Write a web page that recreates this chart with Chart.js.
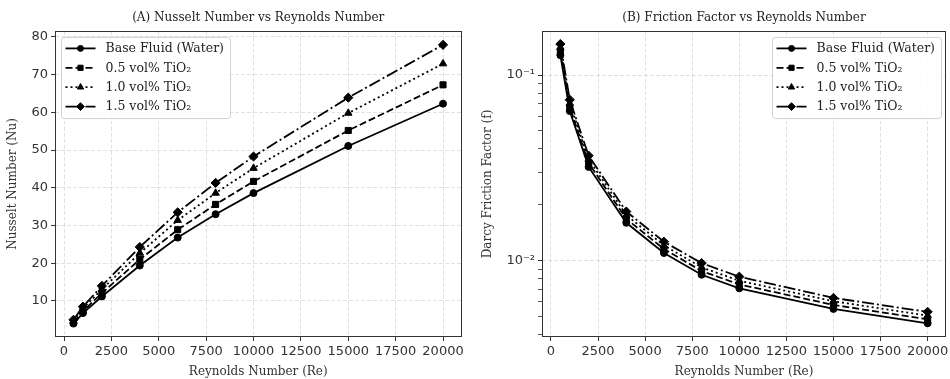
<!DOCTYPE html>
<html>
<head>
<meta charset="utf-8">
<script src="https://cdn.jsdelivr.net/npm/chart.js@4.4.0/dist/chart.umd.min.js"></script>
<style>
  html, body { margin: 0; padding: 0; background: #fff; }
  #wrap { position: relative; width: 950px; height: 379px; }
  canvas { position: absolute; top: 0; }
</style>
</head>
<body>
<div id="wrap">
  <canvas id="nu-chart" width="475" height="379" style="left:0"></canvas>
  <canvas id="f-chart" width="475" height="379" style="left:475px"></canvas>
</div>
<script>
// Reynolds numbers sampled
const reynolds = [500, 1000, 2000, 4000, 6000, 8000, 10000, 15000, 20000];
const seriesNames = ['Base Fluid (Water)', '0.5 vol% TiO\u2082', '1.0 vol% TiO\u2082', '1.5 vol% TiO\u2082'];

// Nusselt number
const nuWater = [4.0, 6.8, 11.2, 19.4, 26.8, 33.0, 38.6, 51.1, 62.3];
const nuTi05 = [4.3, 7.3, 12.1, 21.0, 28.9, 35.6, 41.7, 55.2, 67.3];
const nuTi10 = [4.7, 8.0, 13.1, 22.7, 31.4, 38.6, 45.2, 59.8, 72.9];
const nuTi15 = [5.0, 8.5, 14.0, 24.3, 33.5, 41.3, 48.3, 63.9, 77.9];

// Darcy friction factor
const fWater = [0.128, 0.064, 0.032, 0.0160, 0.0110, 0.0084, 0.0071, 0.0055, 0.0046];
const fTi05 = [0.134, 0.067, 0.0336, 0.0168, 0.01155, 0.0088, 0.00745, 0.00578, 0.00483];
const fTi10 = [0.141, 0.0704, 0.0352, 0.0176, 0.0121, 0.0092, 0.0078, 0.00605, 0.00506];
const fTi15 = [0.147, 0.0736, 0.0368, 0.0184, 0.01265, 0.0097, 0.0082, 0.0063, 0.0053];

// tick labels
const reTicks = [0, 2500, 5000, 7500, 10000, 12500, 15000, 17500, 20000];
const nuTicks = [10, 20, 30, 40, 50, 60, 70, 80];
const fMajorTicks = [0.01, 0.1];
const fMajorLabels = ['10\u207B\u00B2', '10\u207B\u00B9'];
const fMinorTicks = [0.004, 0.005, 0.006, 0.007, 0.008, 0.009, 0.02, 0.03, 0.04, 0.05, 0.06, 0.07, 0.08, 0.09];

// line / marker look for each series
const styles = [
  { dash: [], point: 'circle', radius: 3.5 },
  { dash: [7, 3], point: 'rect', radius: 4.3 },
  { dash: [2, 3], point: 'triangle', radius: 4.3 },
  { dash: [12, 3, 2, 3], point: 'rectRot', radius: 4.6 },
];

const SERIF = "'DejaVu Serif', 'Liberation Serif', serif";
const SANS = "'DejaVu Sans', 'Liberation Sans', sans-serif";
const GRID = 'rgba(150, 150, 150, 0.28)';
const INK = '#333';

function makeDatasets(series) {
  return series.map((values, i) => ({
    label: seriesNames[i],
    data: reynolds.map((re, j) => ({ x: re, y: values[j] })),
    borderColor: '#000',
    backgroundColor: '#000',
    borderWidth: 1.8,
    borderDash: styles[i].dash,
    pointStyle: styles[i].point,
    pointRadius: styles[i].radius,
    pointBorderWidth: 1,
    pointBorderColor: '#000',
    pointBackgroundColor: '#000',
    tension: 0,
    fill: false,
  }));
}

// full box around the plot, like matplotlib spines
const framePlugin = {
  id: 'frame',
  afterDatasetsDraw(chart) {
    const a = chart.chartArea;
    const ctx = chart.ctx;
    ctx.save();
    ctx.strokeStyle = INK;
    ctx.lineWidth = 1;
    ctx.strokeRect(Math.round(a.left) + 0.5, Math.round(a.top) + 0.5,
      Math.round(a.right - a.left) - 1, Math.round(a.bottom - a.top) - 1);
    ctx.restore();
  },
};

function drawMarker(ctx, style, r, x, y) {
  ctx.beginPath();
  if (style === 'circle') {
    ctx.arc(x, y, r, 0, Math.PI * 2);
  } else if (style === 'rect') {
    const s = r * Math.SQRT1_2;
    ctx.rect(x - s, y - s, 2 * s, 2 * s);
  } else if (style === 'triangle') {
    for (let k = 0; k < 3; k++) {
      const ang = k * 2 * Math.PI / 3;
      const px = x + Math.sin(ang) * r;
      const py = y - Math.cos(ang) * r;
      k === 0 ? ctx.moveTo(px, py) : ctx.lineTo(px, py);
    }
  } else {
    ctx.moveTo(x, y - r);
    ctx.lineTo(x + r, y);
    ctx.lineTo(x, y + r);
    ctx.lineTo(x - r, y);
  }
  ctx.closePath();
  ctx.fill();
  ctx.stroke();
}

// matplotlib-style legend box inside the axes
const boxLegendPlugin = {
  id: 'boxLegend',
  afterDraw(chart, args, opts) {
    const ctx = chart.ctx;
    const a = chart.chartArea;
    const font = '12.5px ' + SERIF;
    ctx.save();
    ctx.font = font;
    const names = chart.data.datasets.map((d) => d.label);
    const textW = Math.max(...names.map((n) => ctx.measureText(n).width));
    const padL = 4.5, handle = 30, gap = 10, padR = 6, rowH = 19.4, padT = 10.5;
    const w = padL + handle + gap + textW + padR;
    const h = padT * 2 + rowH * (names.length - 1) + 2;
    const left = opts.side === 'right' ? a.right - 5 - w : a.left + 6;
    const top = a.top + 6;
    // frame
    ctx.beginPath();
    ctx.roundRect(left + 0.5, top + 0.5, w, h, 3);
    ctx.fillStyle = 'rgba(255,255,255,0.85)';
    ctx.fill();
    ctx.strokeStyle = '#d0d0d0';
    ctx.lineWidth = 1;
    ctx.stroke();
    chart.data.datasets.forEach((d, i) => {
      const cy = top + padT + 1 + i * rowH;
      const x0 = left + padL;
      ctx.save();
      ctx.strokeStyle = '#000';
      ctx.lineWidth = d.borderWidth;
      ctx.setLineDash(d.borderDash);
      ctx.beginPath();
      ctx.moveTo(x0, cy);
      ctx.lineTo(x0 + handle, cy);
      ctx.stroke();
      ctx.setLineDash([]);
      ctx.fillStyle = '#000';
      ctx.lineWidth = 1;
      drawMarker(ctx, d.pointStyle, d.pointRadius * 0.85, x0 + handle / 2, cy);
      ctx.restore();
      ctx.fillStyle = '#222';
      ctx.textBaseline = 'middle';
      ctx.textAlign = 'left';
      ctx.fillText(d.label, x0 + handle + gap, cy + 0.5);
    });
    ctx.restore();
  },
};

function xScale() {
  return {
    type: 'linear',
    min: -475,
    max: 20975,
    bounds: 'data',
    afterBuildTicks: (s) => { s.ticks = reTicks.map((v) => ({ value: v })); },
    afterFit: (s) => { s.height = 42; s.paddingLeft = 0; s.paddingRight = 0; },
    grid: { color: GRID, lineWidth: 1, tickColor: INK, tickLength: 4, tickWidth: 1 },
    border: { display: false, dash: [4, 2] },
    ticks: {
      autoSkip: false, maxRotation: 0, padding: 3,
      color: INK, font: { family: SANS, size: 13 },
      callback: (v) => String(v),
    },
    title: {
      display: true, text: 'Reynolds Number (Re)', color: '#333',
      font: { family: SERIF, size: 12 }, padding: { top: 0, bottom: 0 },
    },
  };
}

function titleOpts(text) {
  return {
    display: true, text, fullSize: false, color: '#222',
    font: { family: SERIF, size: 12, weight: 'normal' },
    padding: { top: 11, bottom: 5.5 },
  };
}

// Panel A: Nusselt number
new Chart(document.getElementById('nu-chart').getContext('2d'), {
  type: 'line',
  data: { datasets: makeDatasets([nuWater, nuTi05, nuTi10, nuTi15]) },
  plugins: [framePlugin, boxLegendPlugin],
  options: {
    responsive: false,
    animation: false,
    layout: { autoPadding: false, padding: { left: 0, right: 13.5, top: 0, bottom: 0 } },
    plugins: {
      legend: { display: false },
      tooltip: { enabled: false },
      title: titleOpts('(A) Nusselt Number vs Reynolds Number'),
      boxLegend: { side: 'left' },
    },
    scales: {
      x: xScale(),
      y: {
        type: 'linear',
        min: 0.45,
        max: 81.6,
        bounds: 'data',
        afterBuildTicks: (s) => { s.ticks = nuTicks.map((v) => ({ value: v })); },
        afterFit: (s) => { s.width = 55; s.paddingTop = 0; s.paddingBottom = 0; },
        grid: { color: GRID, lineWidth: 1, tickColor: INK, tickLength: 4, tickWidth: 1 },
        border: { display: false, dash: [4, 2] },
        ticks: { autoSkip: false, padding: 3, color: INK, font: { family: SANS, size: 13 } },
        title: {
          display: true, text: 'Nusselt Number (Nu)', color: '#333',
          font: { family: SERIF, size: 12 }, padding: { top: 6, bottom: 0 },
        },
      },
    },
  },
});

// Panel B: friction factor (log axis)
new Chart(document.getElementById('f-chart').getContext('2d'), {
  type: 'line',
  data: { datasets: makeDatasets([fWater, fTi05, fTi10, fTi15]) },
  plugins: [framePlugin, boxLegendPlugin],
  options: {
    responsive: false,
    animation: false,
    layout: { autoPadding: false, padding: { left: 0, right: 4, top: 0, bottom: 0 } },
    plugins: {
      legend: { display: false },
      tooltip: { enabled: false },
      title: titleOpts('(B) Friction Factor vs Reynolds Number'),
      boxLegend: { side: 'right' },
    },
    scales: {
      x: xScale(),
      y: {
        type: 'logarithmic',
        min: 0.00388,
        max: 0.173,
        bounds: 'data',
        afterBuildTicks: (s) => {
          s.ticks = fMinorTicks.concat(fMajorTicks).sort((p, q) => p - q).map((v) => ({ value: v }));
        },
        afterFit: (s) => { s.width = 67; s.paddingTop = 0; s.paddingBottom = 0; },
        grid: {
          color: (c) => (fMajorTicks.includes(c.tick && c.tick.value) ? GRID : 'rgba(0,0,0,0)'),
          lineWidth: 1, tickColor: INK,
          tickLength: 4,
          tickWidth: (c) => (fMajorTicks.includes(c.tick && c.tick.value) ? 1 : 0.8),
        },
        border: { display: false, dash: [4, 2] },
        ticks: {
          autoSkip: false, padding: 3, color: INK, font: { family: SANS, size: 13 },
          callback: (v) => {
            const k = fMajorTicks.indexOf(v);
            return k >= 0 ? fMajorLabels[k] : '';
          },
        },
        title: {
          display: true, text: 'Darcy Friction Factor (f)', color: '#333',
          font: { family: SERIF, size: 12 }, padding: { top: 6, bottom: 0 },
        },
      },
    },
  },
});
</script>
</body>
</html>
